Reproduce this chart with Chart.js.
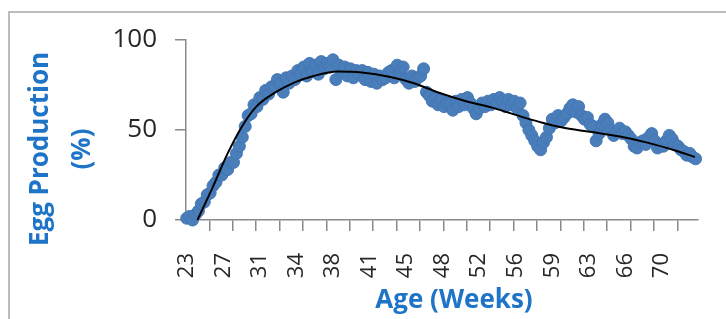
<!DOCTYPE html>
<html lang="en">
<head>
<meta charset="UTF-8">
<title>Egg Production by Age</title>
<script src="https://cdn.jsdelivr.net/npm/chart.js"></script>
<style>
    body { margin: 0; background: #fff; }
    #wrap { width: 726px; height: 319px; }
</style>
</head>
<body>
<div id="wrap"><canvas id="eggChart"></canvas></div>
<script>
// flock readings, one every 2 days from week 23.4
const firstAge = 23.4;
const daysBetween = 2;
const eggProduction = [
    1, 2, 0, 3, 5, 9, 10, 14, 15, 19,
    21, 25, 25, 29, 28, 32, 32, 37, 41, 46,
    52, 58, 59, 64, 63, 68, 67, 72, 70, 74,
    74, 78, 76, 71, 79, 76, 80, 78, 83, 81,
    85, 80, 87, 83, 86, 81, 88, 84, 87, 85,
    89, 78, 86, 82, 85, 80, 84, 79, 83, 81,
    83, 78, 82, 77, 81, 76, 80, 78, 79, 82,
    83, 79, 86, 82, 85, 78, 76, 80, 77, 79,
    80, 84, 71, 69, 66, 68, 64, 67, 63, 65,
    65, 61, 66, 63, 67, 64, 68, 65, 62, 59,
    62, 65, 63, 66, 64, 67, 65, 68, 66, 63,
    67, 64, 66, 62, 65, 58, 54, 50, 47, 44,
    41, 39, 43, 46, 51, 56, 54, 58, 55, 57,
    59, 62, 64, 60, 63, 58, 56, 57, 53, 52,
    44, 48, 53, 56, 54, 50, 47, 49, 51, 48,
    49, 47, 45, 41, 40, 43, 44, 42, 46, 48,
    44, 40, 42, 41, 44, 47, 45, 42, 41, 39,
    38, 36, 37, 35, 34
];

// trend line
const trendAge   = [24.45, 26.0, 27.4, 28.8, 30.2, 32.1, 33.95, 35.8, 38.1, 40.5, 43.3, 45.6, 47.9, 50.7, 53.5, 56.3, 58.15, 60.0, 62.8, 65.6, 68.4, 71.2, 73.05];
const trendValue = [0, 19, 37, 52, 63, 71, 76.5, 80, 82.5, 82, 79.5, 76, 71, 66, 62, 57, 54, 51.5, 49, 46.5, 43, 38.5, 35];

// axis labels: one every 25 days, tick marks every 16 days
const xTickLabels = ["23", "27", "31", "34", "38", "41", "45", "48", "52", "56", "59", "63", "66", "70"];
const labelEveryDays = 25;
const markEveryDays = 16;
const yTicks = [0, 50, 100];

const xMin = 23.33, xMax = 73.33;
const axisGrey = '#898989';
const titleBlue = '#1E74C6';
const tickText = '#262626';

const points = eggProduction.map((v, i) => ({ x: firstAge + i * daysBetween / 7, y: v }));
const trend = trendAge.map((a, i) => ({ x: a, y: trendValue[i] }));

// frame + axis titles
const decorations = {
    id: 'decorations',
    beforeDraw(chart) {
        const c = chart.ctx;
        c.save();
        c.strokeStyle = '#A6A6A6';
        c.lineWidth = 1.5;
        c.strokeRect(9, 12, 800, 400);
        c.restore();
    },
    afterDraw(chart) {
        const c = chart.ctx;
        c.save();
        c.fillStyle = titleBlue;
        c.font = 'bold 26px "Open Sans"';
        c.textAlign = 'center';
        c.textBaseline = 'alphabetic';
        c.fillText('Age (Weeks)', 454, 308);
        c.translate(48, 149);
        c.rotate(-Math.PI / 2);
        c.fillText('Egg Production', 0, 0);
        c.fillText('(%)', 0, 42);
        c.restore();
    }
};

const ctx = document.getElementById('eggChart').getContext('2d');
new Chart(ctx, {
    type: 'scatter',
    data: {
        datasets: [
            {
                type: 'line',
                data: trend,
                borderColor: '#000000',
                borderWidth: 2,
                pointRadius: 0,
                fill: false,
                cubicInterpolationMode: 'monotone',
                order: 0
            },
            {
                data: points,
                backgroundColor: '#4A7EBB',
                borderColor: '#4377B4',
                borderWidth: 1,
                pointRadius: 6,
                clip: false,
                order: 1
            }
        ]
    },
    options: {
        responsive: true,
        maintainAspectRatio: false,
        animation: false,
        layout: { padding: { top: 40, right: 3, left: 0, bottom: 0 } },
        plugins: { legend: { display: false }, tooltip: { enabled: false } },
        scales: {
            x: {
                type: 'linear',
                min: xMin,
                max: xMax,
                afterBuildTicks: scale => {
                    const t = [];
                    xTickLabels.forEach((lab, k) => t.push({ value: firstAge + k * labelEveryDays / 7, lab: lab }));
                    for (let k = 1; xMin + k * markEveryDays / 7 < xMax; k++) {
                        t.push({ value: xMin + k * markEveryDays / 7, lab: '' });
                    }
                    t.sort((a, b) => a.value - b.value);
                    scale.ticks = t;
                },
                afterFit: scale => { scale.height = 99; },
                ticks: {
                    autoSkip: false,
                    minRotation: 90,
                    maxRotation: 90,
                    padding: 22,
                    color: tickText,
                    font: { family: 'Open Sans', size: 22 },
                    callback: (v, i, t) => t[i].lab
                },
                grid: {
                    drawOnChartArea: false,
                    tickLength: 11,
                    lineWidth: 1.5,
                    color: c => (c.tick && c.tick.lab) ? 'rgba(0,0,0,0)' : axisGrey
                },
                border: { color: axisGrey, width: 1.5 }
            },
            y: {
                min: 0,
                max: 100,
                afterBuildTicks: scale => { scale.ticks = yTicks.map(v => ({ value: v })); },
                afterFit: scale => { scale.width = 186; },
                ticks: {
                    padding: 18,
                    color: tickText,
                    font: { family: 'Open Sans', size: 26 }
                },
                grid: {
                    drawOnChartArea: false,
                    tickLength: 11,
                    lineWidth: 1.5,
                    color: axisGrey
                },
                border: { color: axisGrey, width: 1.5 }
            }
        }
    },
    plugins: [decorations]
});
</script>
</body>
</html>
